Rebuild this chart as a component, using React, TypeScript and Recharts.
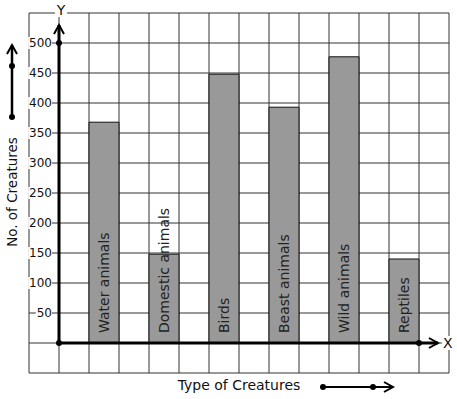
import React from 'react';
import { ComposedChart, Bar, XAxis, YAxis, CartesianGrid, ReferenceLine, ReferenceDot, LabelList } from 'recharts';

const categories = ['Water animals', 'Domestic animals', 'Birds', 'Beast animals', 'Wild animals', 'Reptiles'];
const creatureCounts = [368, 148, 448, 393, 477, 140];
const yTicks = [-50, 0, 50, 100, 150, 200, 250, 300, 350, 400, 450, 500, 550];
const yLabelTicks = [50, 100, 150, 200, 250, 300, 350, 400, 450, 500];
const gridColumns = [-1, 0, 1, 2, 3, 4, 5, 6, 7, 8, 9, 10, 11, 12, 13];
const xAxisTitle = 'Type of Creatures';
const yAxisTitle = 'No. of Creatures';

const data = categories.map((name, i) => ({ name, value: creatureCounts[i] }));

const FONT = 'DejaVu Sans, sans-serif';

const chevron = (x: number, y: number, ux: number, uy: number, len = 9, half = 5) => {
  const nx = -uy;
  const ny = ux;
  return `${x - ux * len + nx * half},${y - uy * len + ny * half} ${x},${y} ${x - ux * len - nx * half},${y - uy * len - ny * half}`;
};

const makeArrowShape = (letter: string, ldx: number, ldy: number) => (p: any) => {
  const { x1, y1, x2, y2 } = p;
  const dx = x2 - x1;
  const dy = y2 - y1;
  const L = Math.sqrt(dx * dx + dy * dy) || 1;
  const ux = dx / L;
  const uy = dy / L;
  const lx = x2 + ldx;
  const ly = y2 + ldy;
  return (
    <g>
      <line x1={x1} y1={y1} x2={x2} y2={y2} stroke="#000" strokeWidth={3} />
      <polyline points={chevron(x2, y2, ux, uy)} fill="none" stroke="#000" strokeWidth={2} />
      <rect x={lx - 6} y={ly - 7} width={12} height={14} fill="#fff" />
      <text x={lx} y={ly} textAnchor="middle" dominantBaseline="central" fontSize={14} fontFamily={FONT} fill="#111">
        {letter}
      </text>
    </g>
  );
};

const YTick = (props: any) => {
  const { x, y, payload } = props;
  if (!yLabelTicks.includes(payload.value)) return <g />;
  const label = String(payload.value);
  const w = label.length * 7.6 + 1;
  const right = x + 23;
  return (
    <g>
      <rect x={right - w} y={y - 6} width={w} height={12} fill="#fff" />
      <text x={right} y={y} textAnchor="end" dominantBaseline="central" fontSize={12} fontFamily={FONT} fill="#111">
        {label}
      </text>
    </g>
  );
};

const YTitle = (props: any) => {
  const vb = props.viewBox || { x: 0, y: 13, width: 29, height: 360 };
  const cx = vb.x + 12;
  const cy = vb.y + vb.height / 2 - 1;
  const top = vb.y + 32;
  return (
    <g>
      <text x={cx} y={cy} transform={`rotate(-90 ${cx} ${cy})`} textAnchor="middle" dominantBaseline="central" fontSize={13.5} fontFamily={FONT} fill="#111">
        {yAxisTitle}
      </text>
      <line x1={cx} y1={vb.y + 104} x2={cx} y2={top} stroke="#000" strokeWidth={2.5} />
      <polyline points={chevron(cx, top, 0, -1, 9, 5)} fill="none" stroke="#000" strokeWidth={2} />
      <circle cx={cx} cy={vb.y + 53} r={3} fill="#000" />
      <circle cx={cx} cy={vb.y + 104} r={3} fill="#000" />
    </g>
  );
};

const XTitle = (props: any) => {
  const vb = props.viewBox || { x: 29, y: 373, width: 420, height: 26 };
  const cx = vb.x + vb.width / 2;
  const ty = vb.y + 12;
  const ay = vb.y + 14;
  return (
    <g>
      <text x={cx} y={ty} textAnchor="middle" dominantBaseline="central" fontSize={14} fontFamily={FONT} fill="#111">
        {xAxisTitle}
      </text>
      <line x1={cx + 84} y1={ay} x2={cx + 154} y2={ay} stroke="#000" strokeWidth={2} />
      <polyline points={chevron(cx + 154, ay, 1, 0, 9, 5)} fill="none" stroke="#000" strokeWidth={2} />
      <circle cx={cx + 84} cy={ay} r={3} fill="#000" />
      <circle cx={cx + 134} cy={ay} r={3} fill="#000" />
    </g>
  );
};

const BarText = (props: any) => {
  const { x, y, width, height, index } = props;
  const cx = Number(x) + Number(width) / 2;
  const by = Number(y) + Number(height) - 10;
  return (
    <text x={cx} y={by} transform={`rotate(-90 ${cx} ${by})`} textAnchor="start" dominantBaseline="central" fontSize={14} fontFamily={FONT} fill="#222">
      {categories[index]}
    </text>
  );
};

export default function App() {
  return (
    <div style={{ position: 'absolute', left: 0, top: 0, width: 457, height: 399, background: '#fff' }}>
      <ComposedChart width={457} height={399} data={data} margin={{ top: 13, right: 8, bottom: 0, left: 0 }} style={{ fontFamily: FONT }}>
        <XAxis xAxisId="grid" dataKey="gridUnit" type="number" domain={[-1, 13]} ticks={gridColumns} allowDataOverflow hide />
        <XAxis
          xAxisId="cat"
          dataKey="name"
          type="category"
          padding={{ left: 45, right: 15 }}
          height={26}
          tick={false}
          tickLine={false}
          axisLine={false}
          label={<XTitle />}
        />
        <YAxis
          type="number"
          domain={[-50, 550]}
          ticks={yTicks}
          width={29}
          tickSize={0}
          tickMargin={0}
          tickLine={false}
          axisLine={false}
          tick={<YTick />}
          interval={0}
          label={<YTitle />}
        />
        <CartesianGrid xAxisId="grid" stroke="#333" strokeWidth={1} strokeDasharray="" />
        <Bar xAxisId="cat" dataKey="value" fill="#999999" stroke="#111" strokeWidth={1} barSize={30} isAnimationActive={false}>
          <LabelList dataKey="name" content={<BarText />} />
        </Bar>
        <ReferenceLine
          xAxisId="grid"
          segment={[{ x: 0, y: 0 }, { x: 0, y: 530 }]}
          shape={makeArrowShape('Y', 2, -15)}
        />
        <ReferenceLine
          xAxisId="grid"
          segment={[{ x: 0, y: 0 }, { x: 12.63, y: 0 }]}
          shape={makeArrowShape('X', 10, 0)}
        />
        <ReferenceDot xAxisId="grid" x={0} y={0} r={3} fill="#000" stroke="none" />
        <ReferenceDot xAxisId="grid" x={0} y={500} r={3} fill="#000" stroke="none" />
        <ReferenceDot xAxisId="grid" x={12} y={0} r={3} fill="#000" stroke="none" />
      </ComposedChart>
    </div>
  );
}
